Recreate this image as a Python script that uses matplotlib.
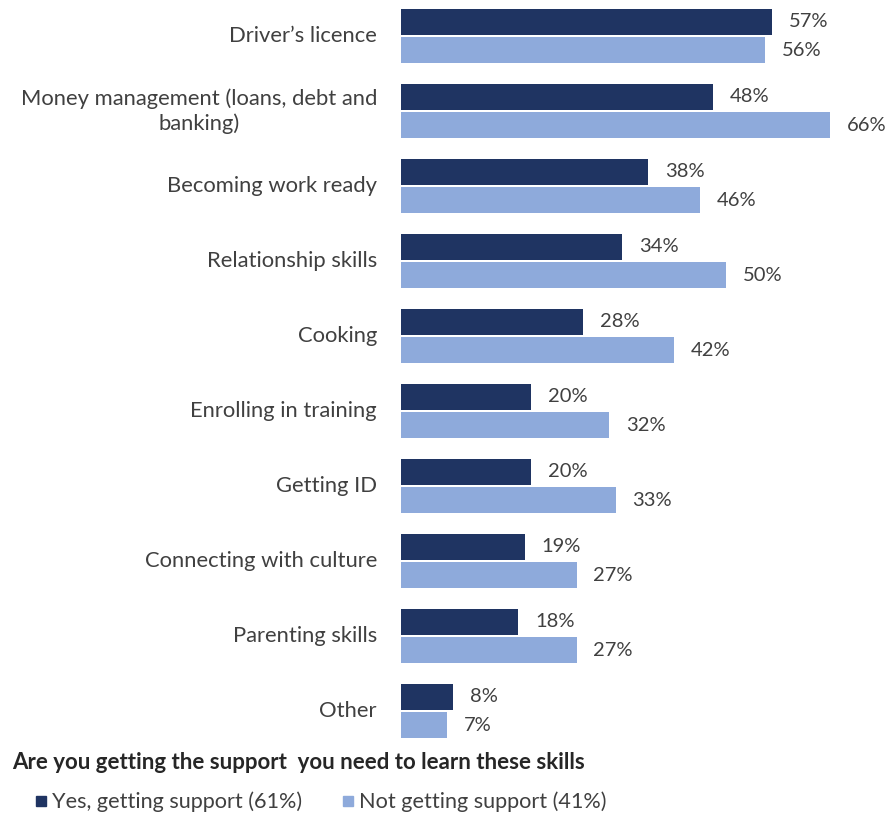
import numpy as np
import matplotlib
matplotlib.use("Agg")
import matplotlib.pyplot as plt
from matplotlib.lines import Line2D

# Skills asked about, top to bottom
categories = [
    "Driver\u2019s licence",
    "Money management (loans, debt and\nbanking)",
    "Becoming work ready",
    "Relationship skills",
    "Cooking",
    "Enrolling in training",
    "Getting ID",
    "Connecting with culture",
    "Parenting skills",
    "Other",
]
getting_support = [57, 48, 38, 34, 28, 20, 20, 19, 18, 8]
not_getting_support = [56, 66, 46, 50, 42, 32, 33, 27, 27, 7]

series_labels = ["Yes, getting support (61%)", "Not getting support (41%)"]
question = "Are you getting the support  you need to learn these skills"

DARK = "#1f3462"
LIGHT = "#8eaadb"
TEXT = "#404040"
FONT = ["Lato", "DejaVu Sans"]

fig = plt.figure(figsize=(8.88, 8.13), dpi=100)
ax = fig.add_axes([401 / 888, 1 - 750 / 813, 455 / 888, 750 / 813])

y = np.arange(len(categories))
h = 0.347
off = 0.193
ax.barh(y - off, getting_support, height=h, color=DARK)
ax.barh(y + off, not_getting_support, height=h, color=LIGHT)

for yi, v in zip(y - off, getting_support):
    ax.text(v + 2.6, yi, f"{v}%", va="center", ha="left",
            fontsize=14.5, color=TEXT, family=FONT)
for yi, v in zip(y + off, not_getting_support):
    ax.text(v + 2.6, yi, f"{v}%", va="center", ha="left",
            fontsize=14.5, color=TEXT, family=FONT)

# category labels, wrapped lines centred like the source tool does
for yi, name in zip(y, categories):
    ax.text(-3.7, yi, name, va="center", ha="right", multialignment="center",
            fontsize=15.8, color=TEXT, family=FONT, linespacing=1.25)

ax.set_xlim(0, 70)
ax.set_ylim(9.52, -0.48)
ax.axis("off")

fig.text(12 / 888, 1 - 762 / 813, question, fontsize=16, fontweight="bold",
         color="#262626", va="center", ha="left", family=FONT)

handles = [
    Line2D([], [], marker="s", linestyle="none", color=DARK, markersize=7),
    Line2D([], [], marker="s", linestyle="none", color=LIGHT, markersize=7),
]
fig.legend(handles, series_labels, loc="center left",
           bbox_to_anchor=(16 / 888, 1 - 802 / 813), ncol=2, frameon=False,
           handlelength=0.5, handletextpad=0.25, columnspacing=1.9,
           prop={"family": FONT, "size": 15.6}, labelcolor=TEXT)

fig.savefig("out.png", dpi=100, facecolor="white")
